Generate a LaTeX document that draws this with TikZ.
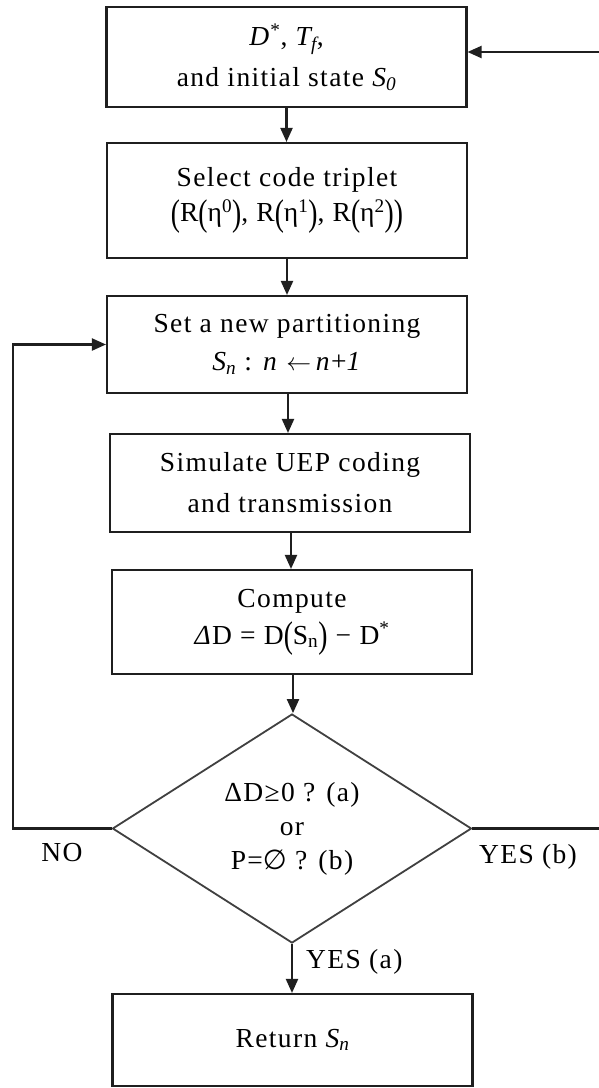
\documentclass[tikz,border=0pt]{standalone}
\usepackage{fontspec}
\setmainfont[LetterSpace=5]{Liberation Serif}
\newfontfamily\symf{DejaVu Sans}
\usetikzlibrary{arrows.meta,shapes.geometric}
\newcommand{\tallp}[1]{\raisebox{-0.12em}{\scalebox{1}[1.35]{#1}}}
\tikzset{
  procbox/.style={draw=black!88, line width=2.1pt, inner sep=0pt, align=center,
                  minimum width=360pt, font=\fontsize{27.5}{33}\selectfont},
  decision/.style={diamond, draw=black!75, line width=1.8pt, inner sep=0pt, align=center,
                   aspect=1.57, minimum width=359pt, minimum height=229pt,
                   font=\fontsize{27.5}{33}\selectfont},
  flow/.style={draw=black!88, line width=2.1pt, -{Triangle[length=14pt,width=12pt]}},
  lbl/.style={font=\fontsize{27.5}{33}\selectfont, inner sep=0pt}
}
\begin{document}
\begin{tikzpicture}[x=1pt,y=-1pt]
\fill[white] (0,0) rectangle (598,1088);
\useasboundingbox (0,0) rectangle (598,1088);

\node[procbox, minimum height=100pt] (b1) at (286.5,57)
  {\textit{D}\textsuperscript{*}, \textit{T\textsubscript{f}},\\[8pt] and initial state \textit{S\textsubscript{0}}};
\node[procbox, minimum height=115pt] (b2) at (287,200.5)
  {Select code triplet\\[2pt] \tallp{(}R\tallp{(}η\textsuperscript{0}\tallp{)}, R\tallp{(}η\textsuperscript{1}\tallp{)}, R\tallp{(}η\textsuperscript{2}\tallp{)}\tallp{)}};
\node[procbox, minimum height=97pt] (b3) at (287,344.5)
  {Set a new partitioning\\[5pt] \textit{S\textsubscript{n}} : \textit{n} $\leftarrow$\,\textit{n}+\textit{1}};
\node[procbox, minimum height=98pt] (b4) at (290,483)
  {Simulate UEP coding\\[8pt] and transmission};
\node[procbox, minimum height=104pt] (b5) at (292,622)
  {Compute\\[4pt] \textit{Δ}D = D\tallp{(}S\textsubscript{n}\tallp{)} − D\textsuperscript{*}};
\node[decision] (dia) at (292,828.5)
  {ΔD≥0 ? (a)\\[1pt] or\\[1pt] P={\symf ∅} ? (b)};
\node[procbox, minimum height=92pt] (b6) at (292.5,1040)
  {Return \textit{S\textsubscript{n}}};

\node[lbl] (no) at (62,853) {NO};
\node[lbl] (yesb) at (528,857) {YES (b)};
\node[lbl, anchor=west] (yesa) at (306,962) {YES (a)};

\coordinate (rr) at (603,52);
\coordinate (ll) at (13,828.5);

\draw[flow] (b1.south) -- (b1.south |- b2.north);
\draw[flow] (b2.south) -- (b2.south |- b3.north);
\draw[flow] ([xshift=1pt]b3.south) -- ([xshift=1pt]b3.south |- b4.north);
\draw[flow] ([xshift=1pt]b4.south) -- ([xshift=1pt]b4.south |- b5.north);
\draw[flow] ([xshift=1pt]b5.south) -- ([xshift=1pt]b5.south |- dia.north);
\draw[flow] (dia.south) -- (dia.south |- b6.north);
\draw[flow] (dia.west) -- (ll) |- (b3.west);
\draw[flow] (dia.east) -| (rr) -- (b1.east |- rr);
\end{tikzpicture}
\end{document}
